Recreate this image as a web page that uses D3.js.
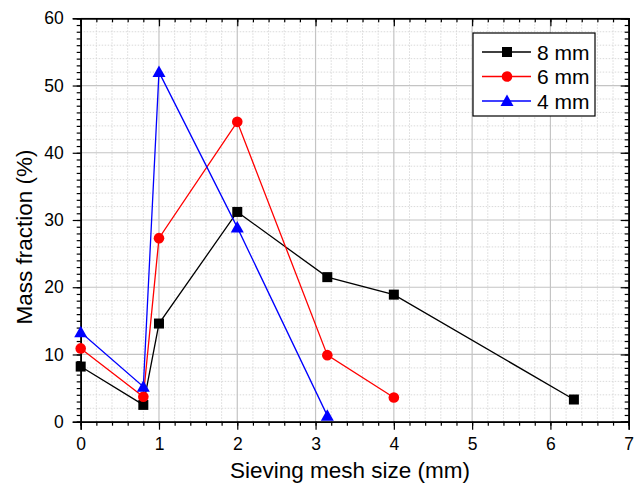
<!DOCTYPE html>
<html><head><meta charset="utf-8">
<script src="https://cdn.jsdelivr.net/npm/d3@7"></script>
<style>body{margin:0;background:#fff;}svg{display:block;font-family:"Liberation Sans",Arial,sans-serif;}</style>
</head><body><svg id="c" width="638" height="491"></svg>
<script>
const xTicks=[0,1,2,3,4,5,6,7];
const yTicks=[0,10,20,30,40,50,60];
const s8x=[0,0.8,1,2,3.15,4,6.3];
const s8y=[8.2,2.5,14.6,31.2,21.5,18.9,3.3];
const s6x=[0,0.8,1,2,3.15,4];
const s6y=[10.9,3.7,27.3,44.6,9.9,3.6];
const s4x=[0,0.8,1,2,3.15];
const s4y=[13.3,5.2,52.0,28.9,0.9];
const seriesNames=["8 mm","6 mm","4 mm"];
const colors=["#000000","#ff0000","#0000ff"];
const shapes=["square","circle","triangle"];

const svg=d3.select("#c");
const L=80.7,R=628.7,T=18.3,B=421.7;
const x=d3.scaleLinear().domain([0,7]).range([L,R]);
const y=d3.scaleLinear().domain([0,60]).range([B,T]);

const g=svg.append("g");
// minor grid
const xMinor=d3.range(0,7.001,0.2).filter(v=>Math.abs(v-Math.round(v))>1e-6);
const yMinor=d3.range(0,60.001,2).filter(v=>v%10!==0);
g.selectAll(".mgx").data(xMinor).enter().append("line")
 .attr("x1",d=>x(d)).attr("x2",d=>x(d)).attr("y1",T).attr("y2",B)
 .attr("stroke","#d0d0d0").attr("stroke-width",0.8).attr("stroke-dasharray","1.5,1.5");
g.selectAll(".mgy").data(yMinor).enter().append("line")
 .attr("y1",d=>y(d)).attr("y2",d=>y(d)).attr("x1",L).attr("x2",R)
 .attr("stroke","#d0d0d0").attr("stroke-width",0.8).attr("stroke-dasharray","1.5,1.5");
// major grid
g.selectAll(".gx").data(xTicks).enter().append("line")
 .attr("x1",d=>x(d)).attr("x2",d=>x(d)).attr("y1",T).attr("y2",B)
 .attr("stroke","#c4c4c4").attr("stroke-width",1.2);
g.selectAll(".gy").data(yTicks).enter().append("line")
 .attr("y1",d=>y(d)).attr("y2",d=>y(d)).attr("x1",L).attr("x2",R)
 .attr("stroke","#c4c4c4").attr("stroke-width",1.2);

// axes
const fmt=d3.format("d");
function styleAxis(sel){sel.selectAll("path").attr("stroke","#000").attr("stroke-width",1.5);
 sel.selectAll("line").attr("stroke","#000").attr("stroke-width",1.2);
 sel.selectAll("text").attr("font-size","17.5px").attr("fill","#000").attr("font-family","Liberation Sans, Arial, sans-serif");}
const xMinorAll=d3.range(0,7.001,0.2);
const yMinorAll=d3.range(0,60.001,1);
// bottom
svg.append("g").attr("transform",`translate(0,${B})`).call(d3.axisBottom(x).tickValues(xMinorAll).tickSize(4).tickFormat("")).call(styleAxis);
svg.append("g").attr("transform",`translate(0,${B})`).call(d3.axisBottom(x).tickValues(xTicks).tickSize(8).tickPadding(8).tickFormat(fmt)).call(styleAxis);
// top
svg.append("g").attr("transform",`translate(0,${T})`).call(d3.axisTop(x).tickValues(xMinorAll).tickSize(-4).tickFormat("")).call(styleAxis);
svg.append("g").attr("transform",`translate(0,${T})`).call(d3.axisTop(x).tickValues(xTicks).tickSize(-8).tickFormat("")).call(styleAxis);
// left
svg.append("g").attr("transform",`translate(${L},0)`).call(d3.axisLeft(y).tickValues(yMinorAll).tickSize(4).tickFormat("")).call(styleAxis);
svg.append("g").attr("transform",`translate(${L},0)`).call(d3.axisLeft(y).tickValues(yTicks).tickSize(8).tickPadding(9).tickFormat(fmt)).call(styleAxis);
// right
svg.append("g").attr("transform",`translate(${R},0)`).call(d3.axisRight(y).tickValues(yMinorAll).tickSize(-4).tickFormat("")).call(styleAxis);
svg.append("g").attr("transform",`translate(${R},0)`).call(d3.axisRight(y).tickValues(yTicks).tickSize(-8).tickFormat("")).call(styleAxis);

// series
const data=[[s8x,s8y],[s6x,s6y],[s4x,s4y]];
function marker(sel,shape,color,cx,cy){
 if(shape==="square") sel.append("rect").attr("x",cx-5).attr("y",cy-5).attr("width",10).attr("height",10).attr("fill",color);
 else if(shape==="circle") sel.append("circle").attr("cx",cx).attr("cy",cy).attr("r",5.3).attr("fill",color);
 else sel.append("path").attr("d",`M${cx},${cy-6.5}L${cx+6.5},${cy+5}L${cx-6.5},${cy+5}Z`).attr("fill",color);
}
const line=d3.line().x(d=>x(d[0])).y(d=>y(d[1]));
data.forEach((s,i)=>{
 const pts=s[0].map((v,k)=>[v,s[1][k]]);
 svg.append("path").datum(pts).attr("d",line).attr("fill","none").attr("stroke",colors[i]).attr("stroke-width",1.3);
});
data.forEach((s,i)=>{
 const gg=svg.append("g");
 s[0].forEach((v,k)=>marker(gg,shapes[i],colors[i],x(v),y(s[1][k])));
});

// legend
const lg=svg.append("g");
lg.append("rect").attr("x",473).attr("y",33).attr("width",122).attr("height",83).attr("fill","#fff").attr("stroke","#000").attr("stroke-width",1.2);
seriesNames.forEach((n,i)=>{
 const yy=52+i*24.5;
 lg.append("line").attr("x1",482).attr("x2",531).attr("y1",yy).attr("y2",yy).attr("stroke",colors[i]).attr("stroke-width",1.3);
 marker(lg,shapes[i],colors[i],507,yy);
 lg.append("text").attr("x",537).attr("y",yy+7.5).attr("font-size","21px").attr("fill","#000").text(n);
});

// axis titles
svg.append("text").attr("x",350).attr("y",478).attr("text-anchor","middle").attr("font-size","22.5px").attr("fill","#000").text("Sieving mesh size (mm)");
svg.append("text").attr("transform",`translate(32,237) rotate(-90)`).attr("text-anchor","middle").attr("font-size","22.5px").attr("fill","#000").text("Mass fraction (%)");
</script></body></html>
